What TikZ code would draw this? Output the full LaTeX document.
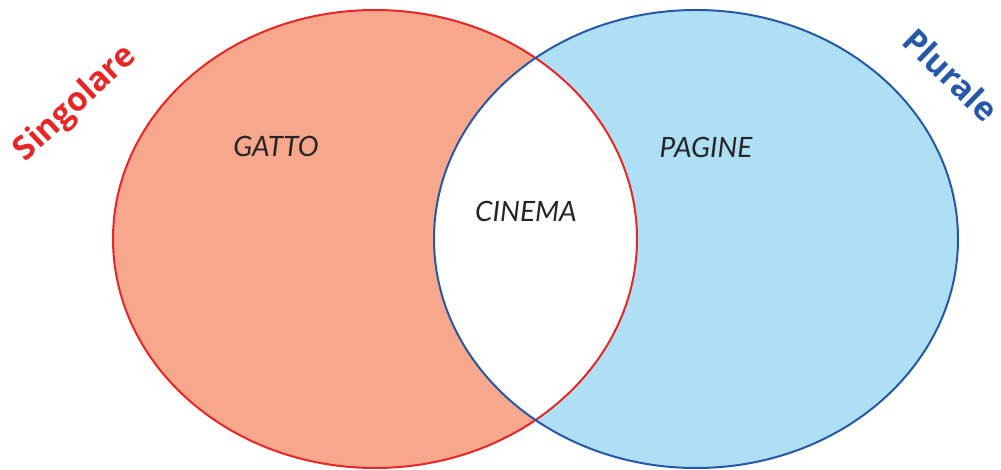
\documentclass[tikz,border=0pt]{standalone}
\usepackage{fontspec}
\setmainfont{Lato}
\newfontfamily\headfont{Open Sans}
\usepackage{xcolor}
\definecolor{ColSing}{RGB}{232,38,38}
\definecolor{ColSingFill}{RGB}{247,168,140}
\definecolor{ColPlur}{RGB}{38,88,170}
\definecolor{ColPlurFill}{RGB}{174,223,245}
\usepackage{tikz}
\tikzstyle{SetSing}=[draw=ColSing,line width=2pt]
\tikzstyle{SetPlur}=[draw=ColPlur,line width=2pt]
\tikzstyle{Word}=[font=\fontsize{28}{28}\selectfont\itshape,text=black!85]
\tikzstyle{Head}=[font=\headfont\fontsize{33}{33}\selectfont\bfseries]

\begin{document}
\begin{tikzpicture}[x=1pt,y=-1pt]
        \useasboundingbox(0,0)rectangle(1001,470);
        \coordinate(cs)at(375,239);
        \coordinate(cp)at(696,239);
        \fill[ColSingFill](cs)ellipse[x radius=262pt,y radius=229pt];
        \fill[ColPlurFill](cp)ellipse[x radius=262pt,y radius=229pt];
        \begin{scope}
            \clip(cs)ellipse[x radius=262pt,y radius=229pt];
            \fill[white](cp)ellipse[x radius=262pt,y radius=229pt];
        \end{scope}
        \draw[SetSing](cs)ellipse[x radius=262pt,y radius=229pt];
        \draw[SetPlur](cp)ellipse[x radius=262pt,y radius=229pt];
        \node[Word](gatto)at(276,146){GATTO};
        \node[Word](cinema)at(526,211){CINEMA};
        \node[Word](pagine)at(706,147){PAGINE};
        \node[Head,text=ColSing,rotate=43](sing)at(76,104){Singolare};
        \node[Head,text=ColPlur,rotate=-44](plur)at(951,75){Plurale};
    \end{tikzpicture}
\end{document}
